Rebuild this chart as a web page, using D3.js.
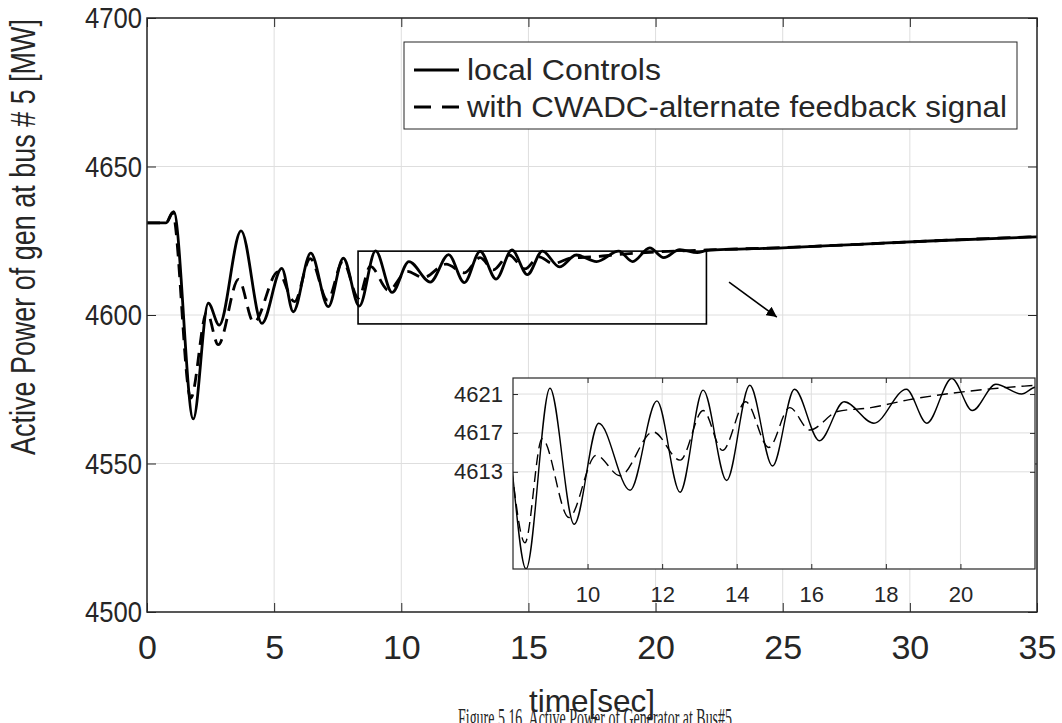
<!DOCTYPE html>
<html>
<head>
<meta charset="utf-8">
<script src="https://cdn.jsdelivr.net/npm/d3@7"></script>
<style>
  body { margin: 0; background: #fff; }
  svg { display: block; }
  text { font-family: "Liberation Sans", Arial, sans-serif; fill: #262626; }
</style>
</head>
<body>
<svg id="chart" width="1062" height="723"></svg>
<script>
// series: local controls (solid)
const tLocal = [0, 0.75, 1.05, 1.82, 2.41, 2.84, 3.7, 4.52, 5.3, 5.75, 6.44, 7.13, 7.72, 8.35, 8.99, 9.64, 10.3, 11.14, 11.86, 12.48, 13.1, 13.73, 14.35, 14.96, 15.55, 16.22, 16.88, 17.68, 18.55, 19.1, 19.77, 20.32, 20.95, 21.64, 22, 25, 28, 31, 35];
const pLocal = [4631, 4631, 4634.8, 4565, 4604, 4596.6, 4628.3, 4597.2, 4615.7, 4601.1, 4620.8, 4602.8, 4619.1, 4603.0, 4621.6, 4607.6, 4618.0, 4611.1, 4620.3, 4610.9, 4621.4, 4612.1, 4621.9, 4613.6, 4621.5, 4616.2, 4620.2, 4618.0, 4621.5, 4618.0, 4622.6, 4619.3, 4622.0, 4621.0, 4621.7, 4622.6, 4623.8, 4625.0, 4626.3];

// series: with CWADC-alternate feedback signal (dashed)
const tCwadc = [0, 0.75, 1.0, 1.72, 2.35, 2.8, 3.6, 4.2, 5.15, 5.8, 6.42, 7.1, 7.7, 8.32, 8.78, 9.5, 10.23, 10.87, 11.76, 12.48, 13.1, 13.62, 14.24, 14.86, 15.42, 15.96, 16.7, 17.6, 18.6, 19.8, 21, 22, 25, 28, 31, 35];
const pCwadc = [4631, 4631, 4634.5, 4572, 4601, 4590, 4612, 4597.5, 4614.5, 4604.5, 4619, 4605, 4618, 4605.7, 4616.4, 4608.3, 4614.7, 4612.6, 4617.1, 4614.2, 4619.3, 4615.2, 4620.2, 4615.5, 4619.6, 4617.3, 4619.2, 4619.6, 4620.4, 4621.1, 4621.6, 4621.9, 4622.7, 4623.8, 4625.0, 4626.4];

const xTicks = [0, 5, 10, 15, 20, 25, 30, 35];
const yTicks = [4500, 4550, 4600, 4650, 4700];
const insetXTicks = [10, 12, 14, 16, 18, 20];
const insetYTicks = [4613, 4617, 4621];
const legendLabels = ["local Controls", "with CWADC-alternate feedback signal"];

// zoom window shown in the inset and the arrow pointing at it
const zoomT = [8.3, 22];
const zoomP = [4597, 4621.5];
const arrowT = [22.89, 24.77];
const arrowP = [4611.1, 4599.3];

const svg = d3.select("#chart");
const frameColor = "#262626";
const gridColor = "#dedede";

const m = {left: 147, right: 1037, top: 18, bottom: 612};
const x = d3.scaleLinear().domain([0, 35]).range([m.left, m.right]);
const y = d3.scaleLinear().domain([4500, 4700]).range([m.bottom, m.top]);

const series = [
  {t: tLocal, p: pLocal, dash: null, legDash: null},
  {t: tCwadc, p: pCwadc, dash: "13,8", legDash: "17,11"}
];

// grid
const g = svg.append("g");
g.selectAll(".gx").data(xTicks).enter().append("line")
  .attr("x1", d => x(d)).attr("x2", d => x(d))
  .attr("y1", m.top).attr("y2", m.bottom)
  .attr("stroke", gridColor).attr("stroke-width", 1);
g.selectAll(".gy").data(yTicks).enter().append("line")
  .attr("x1", m.left).attr("x2", m.right)
  .attr("y1", d => y(d)).attr("y2", d => y(d))
  .attr("stroke", gridColor).attr("stroke-width", 1);

// curves
function lineFor(sx, sy) {
  return d3.line()
    .x(d => sx(d[0]))
    .y(d => sy(d[1]))
    .curve(d3.curveMonotoneX);
}
const mainLine = lineFor(x, y);
series.forEach(s => {
  g.append("path")
    .datum(d3.zip(s.t, s.p))
    .attr("d", mainLine)
    .attr("fill", "none")
    .attr("stroke", "#000")
    .attr("stroke-width", 2.8)
    .attr("stroke-dasharray", s.dash);
});

// axes (ticks inward, box)
const tickLen = 9;
g.append("g").attr("transform", `translate(0,${m.bottom})`)
  .call(d3.axisBottom(x).tickValues(xTicks).tickSize(-tickLen).tickPadding(23).tickFormat(d3.format("d")))
  .call(a => a.select(".domain").remove())
  .call(a => a.selectAll("line").attr("stroke", frameColor))
  .call(a => a.selectAll("text").attr("font-size", 34).attr("fill", frameColor));
g.append("g").attr("transform", `translate(0,${m.top})`)
  .call(d3.axisTop(x).tickValues(xTicks).tickSize(-tickLen).tickFormat(""))
  .call(a => a.select(".domain").remove())
  .call(a => a.selectAll("line").attr("stroke", frameColor));
g.append("g").attr("transform", `translate(${m.left},0)`)
  .call(d3.axisLeft(y).tickValues(yTicks).tickSize(-tickLen).tickPadding(5).tickFormat(d3.format("d")))
  .call(a => a.select(".domain").remove())
  .call(a => a.selectAll("line").attr("stroke", frameColor))
  .call(a => a.selectAll("text").attr("font-size", 30).attr("fill", frameColor)
    .attr("textLength", 57).attr("lengthAdjust", "spacingAndGlyphs"));
g.append("g").attr("transform", `translate(${m.right},0)`)
  .call(d3.axisRight(y).tickValues(yTicks).tickSize(-tickLen).tickFormat(""))
  .call(a => a.select(".domain").remove())
  .call(a => a.selectAll("line").attr("stroke", frameColor));
g.append("rect")
  .attr("x", m.left).attr("y", m.top)
  .attr("width", m.right - m.left).attr("height", m.bottom - m.top)
  .attr("fill", "none").attr("stroke", frameColor).attr("stroke-width", 1.5);

// zoom rectangle + arrow
g.append("rect")
  .attr("x", x(zoomT[0])).attr("y", y(zoomP[1]))
  .attr("width", x(zoomT[1]) - x(zoomT[0])).attr("height", y(zoomP[0]) - y(zoomP[1]))
  .attr("fill", "none").attr("stroke", "#000").attr("stroke-width", 1.6);

svg.append("defs").append("marker")
  .attr("id", "head").attr("viewBox", "0 0 10 10")
  .attr("refX", 10).attr("refY", 5)
  .attr("markerWidth", 6.5).attr("markerHeight", 6.5)
  .attr("markerUnits", "strokeWidth")
  .attr("orient", "auto")
  .append("path").attr("d", "M0,0 L10,5 L0,10 z").attr("fill", "#000");
g.append("line")
  .attr("x1", x(arrowT[0])).attr("y1", y(arrowP[0]))
  .attr("x2", x(arrowT[1])).attr("y2", y(arrowP[1]))
  .attr("stroke", "#000").attr("stroke-width", 1.6)
  .attr("marker-end", "url(#head)");

// legend
const leg = svg.append("g");
leg.append("rect")
  .attr("x", 404).attr("y", 42).attr("width", 613).attr("height", 87)
  .attr("fill", "#fff").attr("stroke", frameColor).attr("stroke-width", 1);
legendLabels.forEach((lab, i) => {
  const cy = 70 + i * 37;
  leg.append("line")
    .attr("x1", 414).attr("x2", 459).attr("y1", cy).attr("y2", cy)
    .attr("stroke", "#000").attr("stroke-width", 2.8)
    .attr("stroke-dasharray", series[i].legDash);
  leg.append("text")
    .attr("x", 467).attr("y", cy + 10)
    .attr("font-size", 29).attr("fill", "#000")
    .attr("textLength", i === 0 ? 194 : 540).attr("lengthAdjust", "spacingAndGlyphs")
    .text(lab);
});

// inset
const ins = {left: 513, right: 1035, top: 378, bottom: 569};
const xi = d3.scaleLinear().domain([8, 22]).range([ins.left, ins.right]);
const yi = d3.scaleLinear().domain([4603, 4622.65]).range([ins.bottom, ins.top]);
const gi = svg.append("g");
gi.append("rect")
  .attr("x", ins.left).attr("y", ins.top)
  .attr("width", ins.right - ins.left).attr("height", ins.bottom - ins.top)
  .attr("fill", "#fff");
gi.selectAll(".igx").data(insetXTicks).enter().append("line")
  .attr("x1", d => xi(d)).attr("x2", d => xi(d))
  .attr("y1", ins.top).attr("y2", ins.bottom)
  .attr("stroke", gridColor);
gi.selectAll(".igy").data(insetYTicks).enter().append("line")
  .attr("x1", ins.left).attr("x2", ins.right)
  .attr("y1", d => yi(d)).attr("y2", d => yi(d))
  .attr("stroke", gridColor);

svg.append("defs").append("clipPath").attr("id", "insclip")
  .append("rect")
  .attr("x", ins.left).attr("y", ins.top)
  .attr("width", ins.right - ins.left).attr("height", ins.bottom - ins.top);
const insetLine = lineFor(xi, yi);
series.forEach(s => {
  gi.append("path")
    .datum(d3.zip(s.t, s.p))
    .attr("d", insetLine)
    .attr("clip-path", "url(#insclip)")
    .attr("fill", "none")
    .attr("stroke", "#000")
    .attr("stroke-width", 1.4)
    .attr("stroke-dasharray", s.dash ? "11,6" : null);
});

const iTick = 5;
gi.append("g").attr("transform", `translate(0,${ins.bottom})`)
  .call(d3.axisBottom(xi).tickValues(insetXTicks).tickSize(-iTick).tickPadding(17))
  .call(a => a.select(".domain").remove())
  .call(a => a.selectAll("line").attr("stroke", frameColor))
  .call(a => a.selectAll("text").attr("font-size", 22).attr("fill", frameColor));
gi.append("g").attr("transform", `translate(0,${ins.top})`)
  .call(d3.axisTop(xi).tickValues(insetXTicks).tickSize(-iTick).tickFormat(""))
  .call(a => a.select(".domain").remove())
  .call(a => a.selectAll("line").attr("stroke", frameColor));
gi.append("g").attr("transform", `translate(${ins.left},0)`)
  .call(d3.axisLeft(yi).tickValues(insetYTicks).tickSize(-iTick).tickPadding(10).tickFormat(d3.format("d")))
  .call(a => a.select(".domain").remove())
  .call(a => a.selectAll("line").attr("stroke", frameColor))
  .call(a => a.selectAll("text").attr("font-size", 22).attr("fill", frameColor));
gi.append("g").attr("transform", `translate(${ins.right},0)`)
  .call(d3.axisRight(yi).tickValues(insetYTicks).tickSize(-iTick).tickFormat(""))
  .call(a => a.select(".domain").remove())
  .call(a => a.selectAll("line").attr("stroke", frameColor));
gi.append("rect")
  .attr("x", ins.left).attr("y", ins.top)
  .attr("width", ins.right - ins.left).attr("height", ins.bottom - ins.top)
  .attr("fill", "none").attr("stroke", frameColor).attr("stroke-width", 1.2);

// axis titles and caption
svg.append("text")
  .attr("transform", "translate(35,237) rotate(-90)")
  .attr("text-anchor", "middle")
  .attr("font-size", 35).attr("fill", frameColor)
  .attr("textLength", 436).attr("lengthAdjust", "spacingAndGlyphs")
  .text("Active Power of gen at bus # 5 [MW]");
svg.append("text")
  .attr("x", 595).attr("y", 727)
  .attr("text-anchor", "middle")
  .style("font-family", "'Liberation Serif', 'Times New Roman', serif")
  .attr("font-size", 28).attr("fill", "#000")
  .attr("textLength", 274).attr("lengthAdjust", "spacingAndGlyphs")
  .text("Figure 5.16. Active Power of Generator at Bus#5");
svg.append("text")
  .attr("x", 592).attr("y", 712)
  .attr("text-anchor", "middle")
  .attr("font-size", 32).attr("fill", frameColor)
  .attr("textLength", 126).attr("lengthAdjust", "spacingAndGlyphs")
  .text("time[sec]");
</script>
</body>
</html>
